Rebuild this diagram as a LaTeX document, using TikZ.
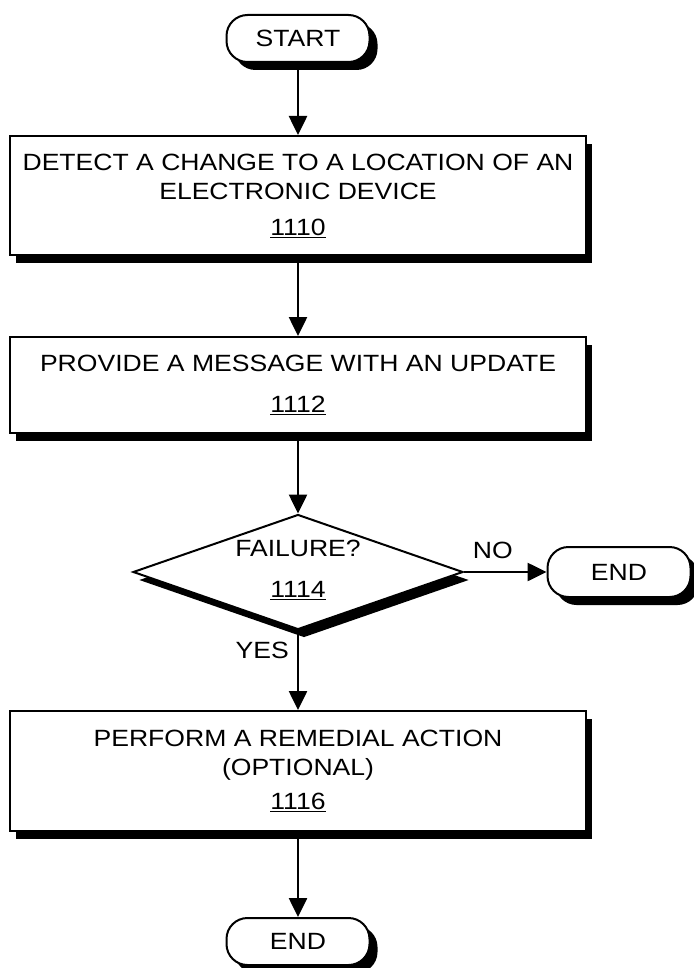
\documentclass[tikz,border=0pt]{standalone}
\usepackage{fontspec}
\setmainfont{Liberation Sans}[FakeStretch=1.13]
\usetikzlibrary{arrows.meta,shapes.geometric,shadows}
\begin{document}
\begin{tikzpicture}[x=1pt,y=-1pt,
  every node/.style={font=\fontsize{23.5}{29}\selectfont},
  shad/.style={drop shadow={shadow xshift=#1, shadow yshift=-8pt, fill=black, opacity=1}},
  box/.style={draw, line width=2pt, fill=white, minimum width=576pt, align=center, inner sep=0pt, shad=6pt},
  term/.style={draw, line width=2pt, fill=white, rounded corners=21pt, minimum width=143pt, minimum height=47pt, inner sep=0pt, shad=8pt},
  decision/.style={draw, diamond, line width=2pt, fill=white, minimum width=330pt, minimum height=115pt, inner sep=0pt, shad=6pt},
  arr/.style={line width=2.6pt, -{Triangle[length=19pt,width=18pt]}},
  lbl/.style={inner sep=0pt, align=center}
]
\useasboundingbox (0,0) rectangle (693,968);

\node[term] (start) at (298,38.5) {START};
\node[box, minimum height=119pt] (b1) at (298,195.5)
  {DETECT A CHANGE TO A LOCATION OF AN\\ELECTRONIC DEVICE\\[7pt]\underline{1110}};
\node[box, minimum height=96pt] (b2) at (298,385)
  {PROVIDE A MESSAGE WITH AN UPDATE\\[12pt]\underline{1112}};
\node[decision] (d) at (298,572) {};
\node[lbl] (dt) at (298,570) {FAILURE?\\[12pt]\underline{1114}};
\node[term, minimum height=50pt] (e1) at (619,572) {END};
\node[box, minimum height=120pt] (b3) at (298,771)
  {PERFORM A REMEDIAL ACTION\\(OPTIONAL)\\[5pt]\underline{1116}};
\node[term] (e2) at (298,941.5) {END};

\draw[arr] (start) -- (b1);
\draw[arr] (b1) -- (b2);
\draw[arr] (b2) -- (d);
\draw[arr] (d.east) -- (e1.west) node[lbl, pos=0.35, above=12pt] (no) {NO};
\draw[arr] (d.south) -- (b3.north);
\node[lbl, anchor=east] (yes) at (289,650) {YES};
\draw[arr] (b3) -- (e2);
\end{tikzpicture}
\end{document}
